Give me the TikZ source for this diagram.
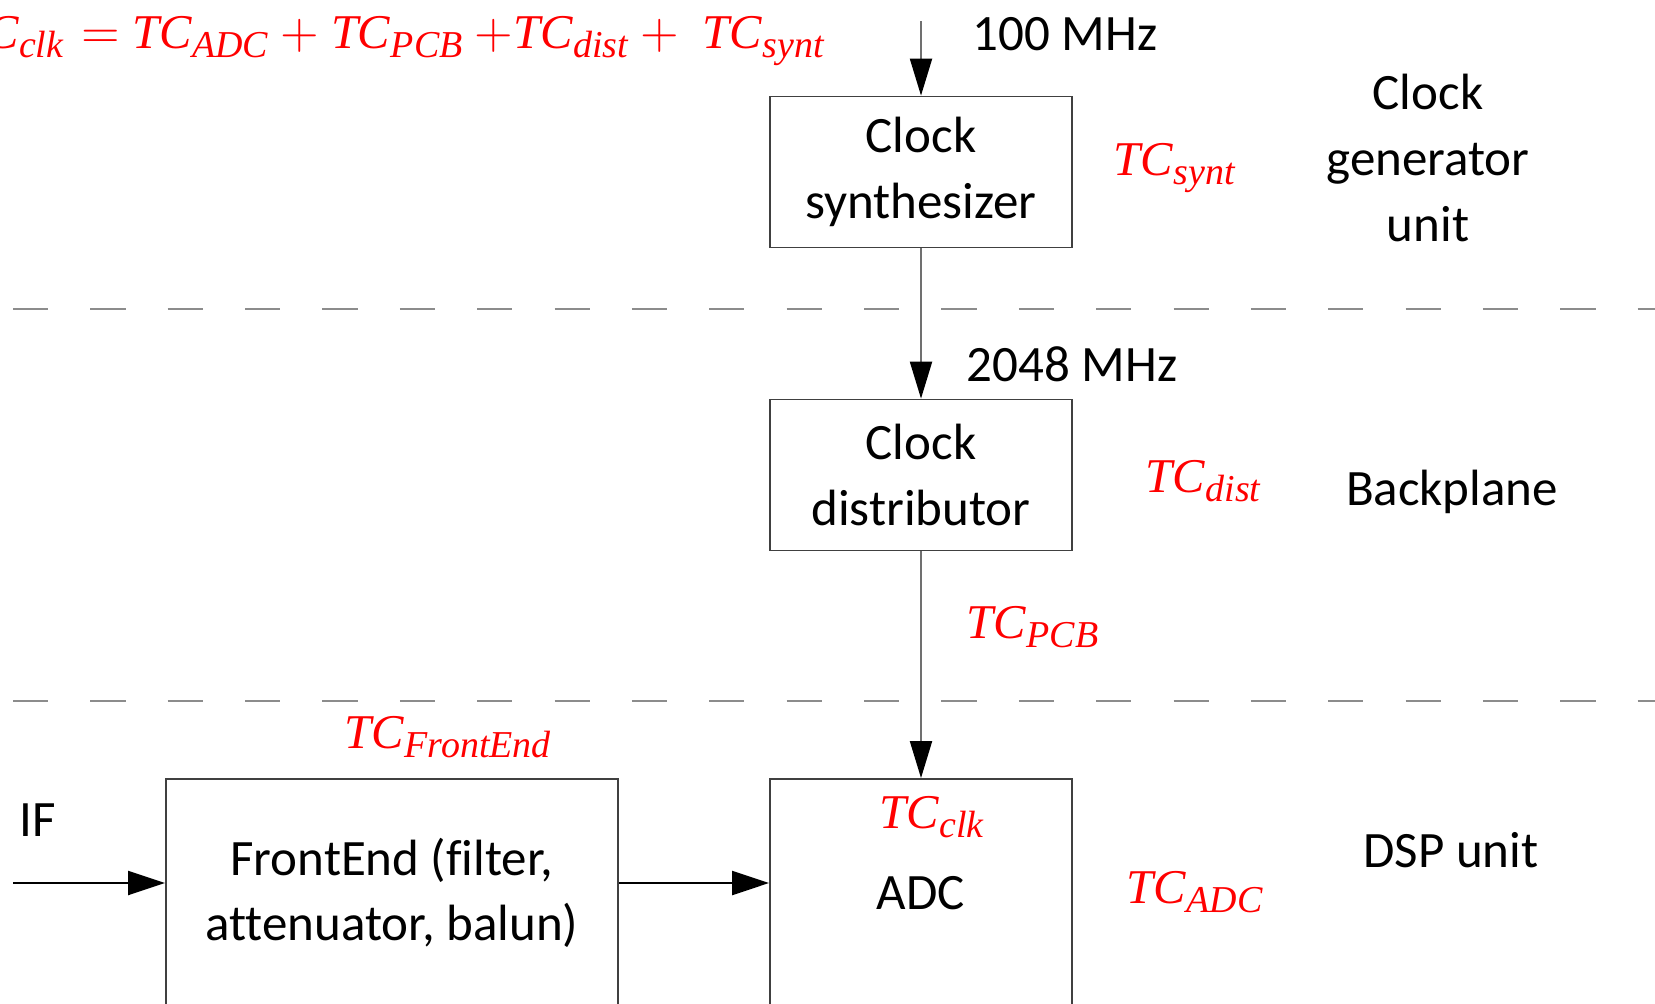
\documentclass[tikz,border=0pt]{standalone}
\usepackage{fontspec}
\setmainfont[Ligatures=NoCommon]{Carlito}
\newfontfamily\tcfont{Liberation Serif}
\usetikzlibrary{positioning, arrows.meta}
\definecolor{clk-red}{HTML}{FF0000}
\definecolor{clk-gray}{HTML}{8C8C8C}
\definecolor{clk-edge}{HTML}{404040}
% TC with a lowered subscript
\newcommand{\tcx}[1]{\textit{TC}\raisebox{-2.6pt}{\fontsize{10.8}{11}\selectfont\itshape #1}}

\begin{document}
\begin{tikzpicture}[x=0.01cm, y=-0.01cm,
    blk/.style={draw=clk-edge, line width=0.5pt, minimum width=3.02cm, minimum height=1.51cm,
                align=center, font=\fontsize{14.5}{18.7}\selectfont},
    lbl/.style={font=\fontsize{14.5}{18.7}\selectfont, align=center, inner sep=0pt},
    tc/.style={text=clk-red, font=\tcfont\fontsize{13.8}{16}\selectfont, anchor=base west, inner sep=0pt},
    feed/.style={draw=clk-gray!80!black, line width=0.4pt,
                 -{Triangle[length=10.5pt, width=6.3pt, color=black]}},
    sig/.style={draw=black, line width=0.7pt, -{Triangle[length=10.5pt, width=6.8pt]}},
    border/.style={draw=clk-gray, line width=0.6pt, dash pattern=on 10pt off 12pt},
]
    \clip (0,0) rectangle (1655,1003);

    % layer borders
    \foreach \y in {309,701}
        \draw[border] (13,\y) -- (1655,\y);

    \node[blk] (synth) at (921,172) {Clock\\synthesizer};
    \node[blk] (dist) at (921,475) {Clock\\distributor};
    \node[blk, minimum width=4.52cm, minimum height=2.28cm, anchor=north] (fe) at (392,778) {FrontEnd (filter,\\attenuator, balun)};
    \node[blk, minimum height=2.28cm, anchor=north] (adc) at (921,778) {ADC};

    \node[lbl, anchor=base] (f100) at (1065,50) {100 MHz};
    \node[lbl, anchor=base] (f2048) at (1072,381) {2048 MHz};
    \node[lbl] (cgu) at (1428,158) {Clock\\generator\\unit};
    \node[lbl, anchor=base] (bp) at (1452,505) {Backplane};
    \node[lbl, anchor=base] (dsp) at (1451,867) {DSP unit};
    \node[lbl, anchor=base] (if) at (38,836) {IF};

    \node[tc] (tsynt) at (1113,175) {\tcx{synt}};
    \node[tc] (tdist) at (1145,492) {\tcx{dist}};
    \node[tc] (tpcb) at (966,638) {\tcx{PCB}};
    \node[tc] (tfe) at (344,748) {\tcx{FrontEnd}};
    \node[tc] (tclk) at (879,828) {\tcx{clk}};
    \node[tc] (tadc) at (1126,903) {\tcx{ADC}};
    % equation, cut at the left edge
    \node[tc, anchor=base east] (eqlhs) at (64,48) {\tcx{clk}};
    \node[tc] (eqrhs) at (81,48)
        {$=$ \tcx{ADC} $+$ \tcx{PCB} $+$\tcx{dist} $+$ \ \tcx{synt}};

    \coordinate (src) at (921,21);
    \coordinate (in) at (13,883);
    \draw[feed] (src) -- (synth);
    \draw[feed] (synth) -- (dist);
    \draw[feed] (dist) -- (adc);
    \draw[sig] (in) -- (in -| fe.west);
    \draw[sig] (fe.east |- in) -- (in -| adc.west);
\end{tikzpicture}
\end{document}
